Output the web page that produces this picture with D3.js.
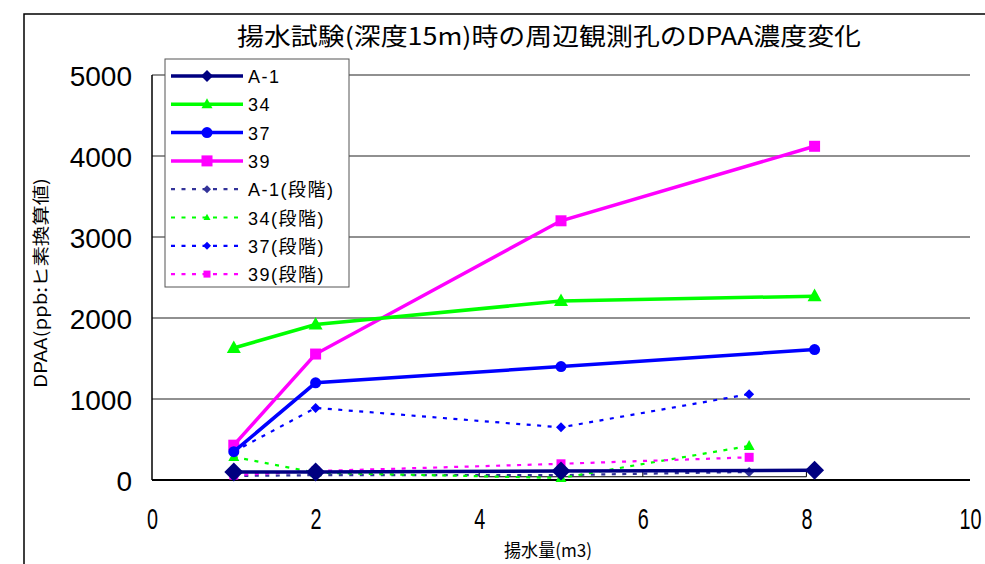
<!DOCTYPE html>
<html>
<head>
<meta charset="utf-8">
<script src="https://cdn.jsdelivr.net/npm/d3@7/dist/d3.min.js"></script>
<style>
  html, body { margin: 0; padding: 0; background: #fff; }
  svg { display: block; }
  .jp { font-family: "Noto Sans CJK JP", "Noto Sans", sans-serif; }
</style>
</head>
<body>
<svg id="chart" width="985" height="564"></svg>
<script>
// Pumping volume (m3) at each observation
const pumpMain  = [1, 2, 5, 8.1];
const pumpStage = [1, 2, 5, 7.3];

// DPAA concentration (ppb, arsenic equivalent) per well
const wellA1 = [100, 100, 110, 120];
const well34 = [1630, 1920, 2210, 2270];
const well37 = [350, 1200, 1400, 1610];
const well39 = [430, 1555, 3200, 4120];

// Stage-wise values
const stageA1 = [50, 60, 60, 100];
const stage34 = [285, 90, 25, 420];
const stage37 = [350, 890, 650, 1060];
const stage39 = [60, 110, 200, 280];

const xTicks = [0, 2, 4, 6, 8, 10];
const yTicks = [0, 1000, 2000, 3000, 4000, 5000];

const titleText = "揚水試験(深度15m)時の周辺観測孔のDPAA濃度変化";
const xTitle = "揚水量(m3)";
const yTitle = "DPAA(ppb:ヒ素換算値)";

const series = [
  { name: "A-1",      xs: pumpMain,  ys: wellA1,  color: "#000080", dashed: false, shape: "diamond" },
  { name: "34",       xs: pumpMain,  ys: well34,  color: "#00ff00", dashed: false, shape: "triangle" },
  { name: "37",       xs: pumpMain,  ys: well37,  color: "#0000ff", dashed: false, shape: "circle" },
  { name: "39",       xs: pumpMain,  ys: well39,  color: "#ff00ff", dashed: false, shape: "square" },
  { name: "A-1(段階)", xs: pumpStage, ys: stageA1, color: "#333399", dashed: true,  shape: "diamond" },
  { name: "34(段階)",  xs: pumpStage, ys: stage34, color: "#00ff00", dashed: true,  shape: "triangle" },
  { name: "37(段階)",  xs: pumpStage, ys: stage37, color: "#0000ff", dashed: true,  shape: "diamond" },
  { name: "39(段階)",  xs: pumpStage, ys: stage39, color: "#ff00ff", dashed: true,  shape: "square" }
];

const svg = d3.select("#chart");
const x = d3.scaleLinear().domain([0, 10]).range([152, 970]);
const y = d3.scaleLinear().domain([0, 5000]).range([480, 75]);

// outer frame (top and left edges of the chart area)
svg.append("path")
  .attr("d", "M24,564 L24,14 L985,14")
  .attr("fill", "none").attr("stroke", "#000").attr("stroke-width", 1.5);

// title
svg.append("text").attr("class", "jp")
  .attr("x", 549).attr("y", 45)
  .attr("text-anchor", "middle")
  .attr("font-size", 24)
  .attr("textLength", 624).attr("lengthAdjust", "spacingAndGlyphs")
  .text(titleText);

// horizontal gridlines
svg.append("g").selectAll("line")
  .data(yTicks.filter(d => d > 0))
  .join("line")
  .attr("x1", x(0)).attr("x2", x(10))
  .attr("y1", d => y(d)).attr("y2", d => y(d))
  .attr("stroke", "#222").attr("stroke-width", 1.2);

// axes lines
svg.append("line").attr("x1", x(0)).attr("x2", x(0)).attr("y1", y(5000)).attr("y2", y(0))
  .attr("stroke", "#000").attr("stroke-width", 1.5);
svg.append("line").attr("x1", x(0)).attr("x2", x(10)).attr("y1", y(0)).attr("y2", y(0))
  .attr("stroke", "#000").attr("stroke-width", 2);

// small bracket near the baseline
svg.append("path")
  .attr("d", `M${x(4)},${y(120)} L${x(4)},${y(40)} L${x(8)},${y(40)} L${x(8)},${y(120)} M${x(6)},${y(120)} L${x(6)},${y(40)}`)
  .attr("fill", "none").attr("stroke", "#000").attr("stroke-width", 1);

// y tick labels
const yAxis = svg.append("g")
  .attr("transform", `translate(${x(0)},0)`)
  .call(d3.axisLeft(y).tickValues(yTicks).tickSize(0).tickPadding(20).tickFormat(d3.format("d")));
yAxis.select(".domain").remove();
yAxis.selectAll("text").attr("font-size", 28).attr("fill", "#000")
  .attr("font-family", "Liberation Sans, Arial, sans-serif")
  .attr("dy", "0.36em");

// x tick labels (condensed digits)
const xAxis = svg.append("g")
  .attr("transform", `translate(0,${y(0)})`)
  .call(d3.axisBottom(x).tickValues(xTicks).tickSize(0).tickPadding(28).tickFormat(d3.format("d")));
xAxis.select(".domain").remove();
xAxis.selectAll("text").attr("font-size", 30).attr("fill", "#000")
  .attr("font-family", "Liberation Sans, Arial, sans-serif")
  .attr("transform", "scale(0.66,1)");

// axis titles
svg.append("text").attr("class", "jp")
  .attr("x", 548).attr("y", 557)
  .attr("text-anchor", "middle").attr("font-size", 18)
  .attr("textLength", 88).attr("lengthAdjust", "spacingAndGlyphs")
  .text(xTitle);
svg.append("text").attr("class", "jp")
  .attr("transform", "translate(47,283) rotate(-90)")
  .attr("text-anchor", "middle").attr("font-size", 17)
  .attr("textLength", 210).attr("lengthAdjust", "spacingAndGlyphs")
  .text(yTitle);

// marker drawing
function marker(g, shape, size, color) {
  const h = size / 2;
  if (shape === "circle") {
    g.append("circle").attr("r", h).attr("fill", color);
  } else if (shape === "diamond") {
    g.append("path").attr("d", `M0,${-h}L${h},0L0,${h}L${-h},0Z`).attr("fill", color);
  } else if (shape === "square") {
    g.append("rect").attr("x", -h).attr("y", -h).attr("width", size).attr("height", size).attr("fill", color);
  } else {
    const th = size * 0.9;
    g.append("path").attr("d", `M0,${-th * 0.6}L${h},${th * 0.4}L${-h},${th * 0.4}Z`).attr("fill", color);
  }
}
function markerSize(s) {
  if (!s.dashed) {
    return { diamond: 19, triangle: 14, circle: 11, square: 11 }[s.shape];
  }
  return { diamond: 10, triangle: 11, square: 9 }[s.shape];
}

const line = d3.line().x(d => x(d[0])).y(d => y(d[1]));

// dashed series drawn first, solid on top
const order = [4, 5, 6, 7, 3, 2, 1, 0];
const plot = svg.append("g");
order.forEach(i => {
  const s = series[i];
  const pts = s.xs.map((v, k) => [v, s.ys[k]]);
  plot.append("path")
    .datum(pts)
    .attr("d", line)
    .attr("fill", "none")
    .attr("stroke", s.color)
    .attr("stroke-width", s.dashed ? 2.2 : 3.5)
    .attr("stroke-dasharray", s.dashed ? "4,6.5" : null);
  pts.forEach(p => {
    const g = plot.append("g").attr("transform", `translate(${x(p[0])},${y(p[1])})`);
    marker(g, s.shape, markerSize(s), s.color);
  });
});

// legend
const lg = svg.append("g");
lg.append("rect").attr("x", 165).attr("y", 59).attr("width", 184).attr("height", 228)
  .attr("fill", "#fff").attr("stroke", "#555").attr("stroke-width", 1);
series.forEach((s, i) => {
  const ly = 76 + i * 28.3;
  const row = lg.append("g").attr("transform", `translate(0,${ly})`);
  row.append("line").attr("x1", 171).attr("x2", 243).attr("y1", 0).attr("y2", 0)
    .attr("stroke", s.color).attr("stroke-width", s.dashed ? 2.2 : 3.5)
    .attr("stroke-dasharray", s.dashed ? "4,6.5" : null);
  const m = row.append("g").attr("transform", "translate(207,0)");
  const sz = s.dashed ? (s.shape === "diamond" ? 8 : 7) : (s.shape === "diamond" ? 12 : 11);
  marker(m, s.shape, sz, s.color);
  row.append("text").attr("x", 248).attr("y", 7)
    .attr("font-size", 18)
    .attr("font-family", "Liberation Sans, Noto Sans CJK JP, sans-serif")
    .attr("letter-spacing", 1.5)
    .text(s.name);
});
</script>
</body>
</html>
